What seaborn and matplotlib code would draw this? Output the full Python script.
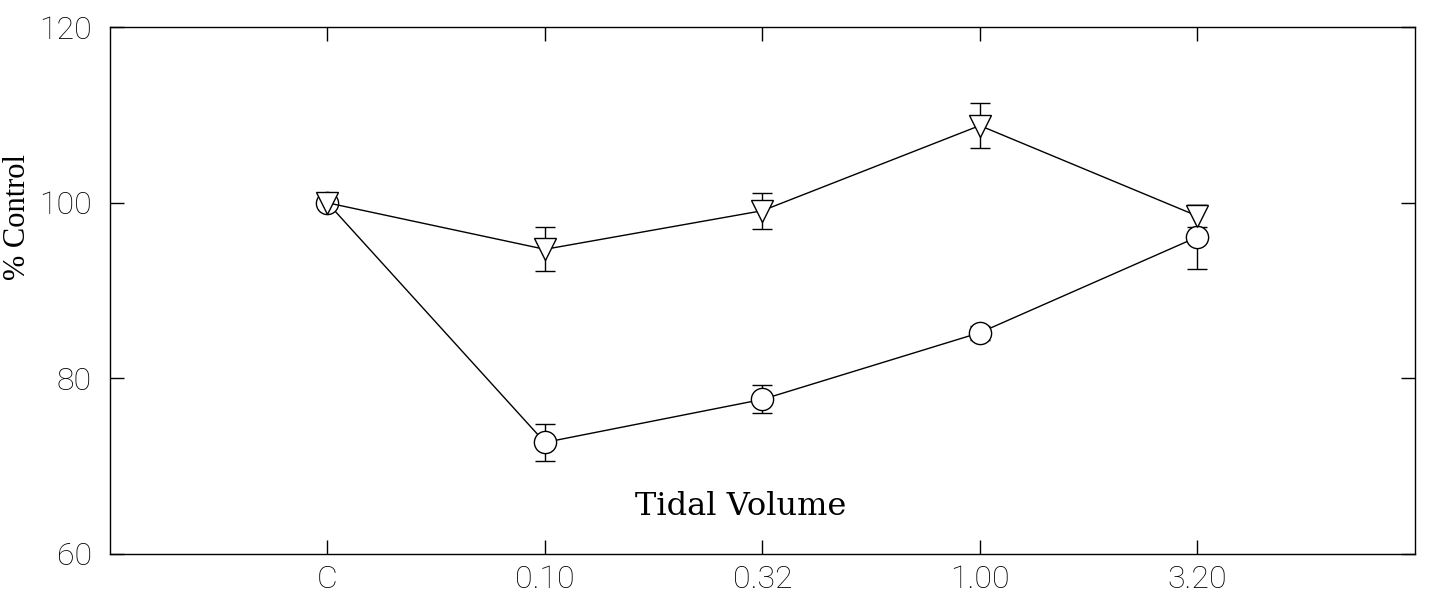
import numpy as np
import pandas as pd
import matplotlib
matplotlib.use("Agg")
import matplotlib.pyplot as plt
import seaborn as sns

# values (% of control, mean and error)
doses = ["C", "0.10", "0.32", "1.00", "3.20"]
tri_mean = [100.0, 94.7, 99.1, 108.8, 98.5]
tri_err = [0.0, 2.5, 2.05, 2.6, 1.2]
circ_mean = [100.0, 72.7, 77.6, 85.2, 96.1]
circ_err = [0.0, 2.1, 1.6, 0.8, 3.6]
y_ticks = [60, 80, 100, 120]

sns.set_style("ticks")
plt.rcParams["font.family"] = ["Roboto", "DejaVu Sans"]
plt.rcParams.update({"text.color": "black", "axes.labelcolor": "black",
                     "xtick.color": "black", "ytick.color": "black",
                     "axes.edgecolor": "black"})

pos = np.arange(len(doses))
tri = pd.DataFrame({"pos": pos, "value": tri_mean, "err": tri_err})
circ = pd.DataFrame({"pos": pos, "value": circ_mean, "err": circ_err})

fig, ax = plt.subplots(figsize=(14.29, 6.06), dpi=100)
fig.subplots_adjust(left=0.077, right=0.990, bottom=0.086, top=0.955)

# error bars first, markers cover the part inside them
for d in (circ, tri):
    ax.errorbar(d["pos"], d["value"], yerr=d["err"], fmt="none", ecolor="black",
                elinewidth=1.0, capsize=7, capthick=1.0, zorder=2)

marker_kw = dict(color="black", markersize=16, markerfacecolor="white",
                 markeredgecolor="black", markeredgewidth=1.0, linewidth=1.0,
                 sort=False, legend=False, zorder=3)
sns.lineplot(data=circ, x="pos", y="value", marker="o", ax=ax, **marker_kw)
sns.lineplot(data=tri, x="pos", y="value", marker="v", ax=ax, **marker_kw)

ax.set_xlim(-1, len(doses))
ax.set_ylim(60, 120)
ax.set_xticks(pos)
ax.set_xticklabels(doses)
ax.set_yticks(y_ticks)
ax.set_xlabel("")
ax.set_ylabel("% Control", family="Liberation Serif", fontsize=22)
ax.yaxis.set_label_coords(-0.060, 0.64)

ax.tick_params(direction="in", length=10, width=1.0, top=True, right=True,
               labelsize=23)
ax.tick_params(axis="x", pad=8)
ax.tick_params(axis="y", pad=13)
for lab in ax.get_xticklabels() + ax.get_yticklabels():
    lab.set_fontweight("light")
for sp in ax.spines.values():
    sp.set_linewidth(1.0)

ax.text(0.483, 0.09, "Tidal Volume", transform=ax.transAxes, ha="center", va="center",
        family="DejaVu Serif", fontsize=23)

fig.savefig("out.png", dpi=100)
